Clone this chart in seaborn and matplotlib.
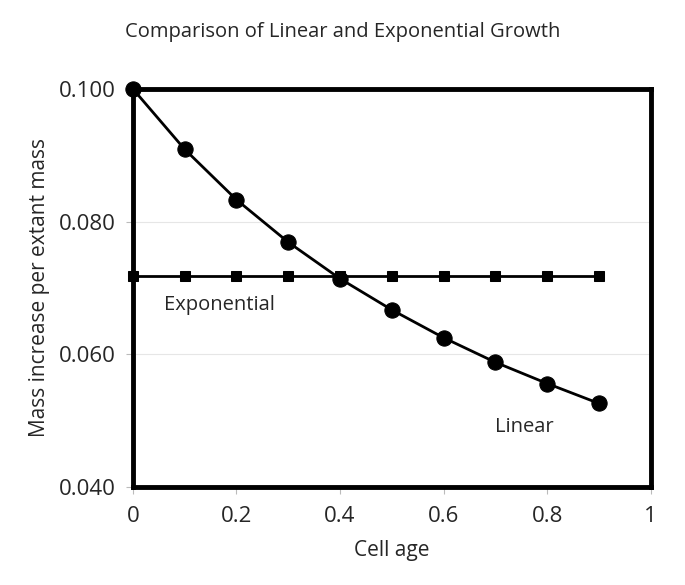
import numpy as np
import pandas as pd
import seaborn as sns
import matplotlib.pyplot as plt

# values
cell_age = [0.0, 0.1, 0.2, 0.3, 0.4, 0.5, 0.6, 0.7, 0.8, 0.9]
linear_rate = [0.1000, 0.0909, 0.0833, 0.0769, 0.0714, 0.0667, 0.0625, 0.0588, 0.0556, 0.0526]
exponential_rate = [0.0718, 0.0718, 0.0718, 0.0718, 0.0718, 0.0718, 0.0718, 0.0718, 0.0718, 0.0718]

df = pd.DataFrame({
    'age': cell_age * 2,
    'rate': linear_rate + exponential_rate,
    'model': ['Linear'] * len(cell_age) + ['Exponential'] * len(cell_age),
})

sns.set_style('white')
plt.rcParams['font.family'] = ['Open Sans', 'DejaVu Sans']

fig = plt.figure(figsize=(6.85, 5.85), dpi=100)
ax = fig.add_axes([0.194, 0.1675, 0.756, 0.6805])

ax.axhline(0.08, color='#e6e6e6', lw=0.8, zorder=0)
ax.axhline(0.06, color='#e6e6e6', lw=0.8, zorder=0)

sns.lineplot(data=df[df['model'] == 'Linear'], x='age', y='rate', ax=ax,
             color='black', lw=2, marker='o', markersize=11, markeredgecolor='black',
             clip_on=False, zorder=5)
sns.lineplot(data=df[df['model'] == 'Exponential'], x='age', y='rate', ax=ax,
             color='black', lw=2, marker='s', markersize=7, markeredgecolor='black',
             clip_on=False, zorder=4)

ax.set_xlim(0, 1)
ax.set_ylim(0.04, 0.10)
ax.set_xticks([0, 0.2, 0.4, 0.6, 0.8, 1])
ax.set_xticklabels(['0', '0.2', '0.4', '0.6', '0.8', '1'])
ax.set_yticks([0.04, 0.06, 0.08, 0.10])
ax.set_yticklabels(['0.040', '0.060', '0.080', '0.100'])
ax.tick_params(axis='both', labelsize=16, length=5, color='#bbbbbb', direction='out', pad=7)
ax.tick_params(axis='x', pad=9)
ax.tick_params(left=True, bottom=True)

for s in ax.spines.values():
    s.set_linewidth(3.5)
    s.set_color('black')

ax.text(0.06, 0.06675, 'Exponential', fontsize=14.5)
ax.text(0.70, 0.04825, 'Linear', fontsize=14.5)

ax.set_xlabel('Cell age', fontsize=15, labelpad=9)
ax.set_ylabel('Mass increase per extant mass', fontsize=15, labelpad=6.5)
fig.suptitle('Comparison of Linear and Exponential Growth', fontsize=14.5, y=0.962)

fig.savefig('out.png', dpi=100)
